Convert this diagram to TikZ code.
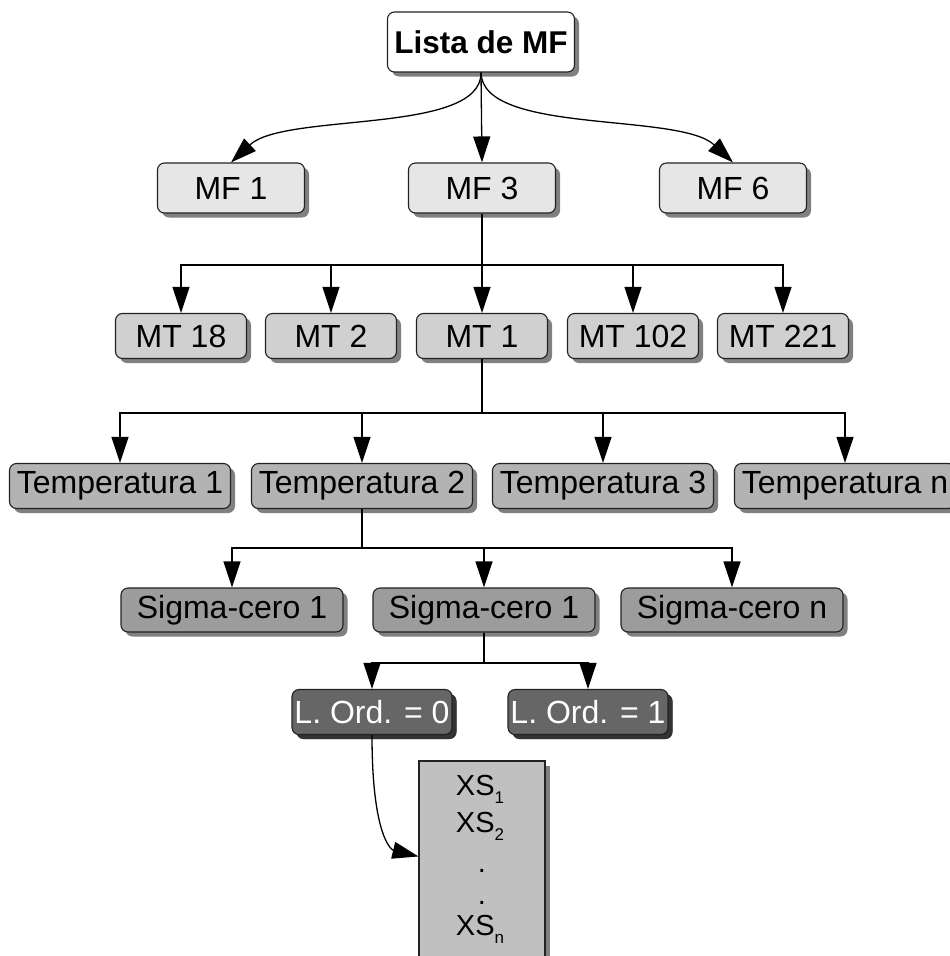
\documentclass[tikz,border=0pt]{standalone}
\usepackage{fontspec}
\setmainfont{Liberation Sans}
\usetikzlibrary{shadows,arrows.meta,calc}
\definecolor{cmf}{HTML}{E6E6E6}
\definecolor{cmt}{HTML}{D0D0D0}
\definecolor{ctp}{HTML}{B3B3B3}
\definecolor{csg}{HTML}{9C9C9C}
\definecolor{clo}{HTML}{666666}
\definecolor{cxs}{HTML}{C0C0C0}
\definecolor{cbd}{HTML}{222222}
\tikzset{
  basebox/.style={draw=cbd, line width=1.1pt, rounded corners=7pt, inner sep=0pt,
    font=\fontsize{32}{36}\selectfont,
    drop shadow={shadow xshift=4.5pt, shadow yshift=-4.5pt, fill=black!50, opacity=1}},
  listabox/.style={basebox, fill=white, minimum width=187pt, minimum height=60pt,
    font=\fontsize{31.5}{36}\selectfont\bfseries},
  mfbox/.style={basebox, fill=cmf, minimum width=147pt, minimum height=50pt},
  mtbox/.style={basebox, fill=cmt, minimum width=131pt, minimum height=45pt},
  tpbox/.style={basebox, fill=ctp, minimum width=221pt, minimum height=45pt},
  sgbox/.style={basebox, fill=csg, minimum width=222pt, minimum height=44pt},
  lobox/.style={basebox, fill=clo, text=white, minimum width=160pt, minimum height=45pt,
    drop shadow={shadow xshift=4.5pt, shadow yshift=-4.5pt, fill=black!80, opacity=1}},
  xsbox/.style={draw=cbd, line width=1.1pt, fill=cxs, inner sep=0pt,
    minimum width=126pt, minimum height=219pt,
    drop shadow={shadow xshift=5pt, shadow yshift=-5pt, fill=black!50, opacity=1}},
  xstext/.style={inner sep=0pt, anchor=base, font=\fontsize{29}{30}\selectfont},
  conn/.style={draw=black, line width=1.3pt, -{Triangle[length=26pt,width=17pt]}},
  line/.style={draw=black, line width=1.3pt}
}
\newcommand{\xsub}[1]{\raisebox{-8pt}{\fontsize{17}{17}\selectfont #1}}
\begin{document}
\begin{tikzpicture}[x=1pt,y=-1pt]
\useasboundingbox (0,0) rectangle (950,956);
% top
\node[listabox] (lista) at (481,42) {Lista de MF};
% MF row
\node[mfbox] (mf1) at (231,188) {MF 1};
\node[mfbox] (mf3) at (482,188) {MF 3};
\node[mfbox] (mf6) at (733,188) {MF 6};
% MT row
\node[mtbox] (mt18) at (181,336) {MT 18};
\node[mtbox] (mt2) at (331,336) {MT 2};
\node[mtbox] (mt1) at (482,336) {MT 1};
\node[mtbox] (mt102) at (633,336) {MT 102};
\node[mtbox] (mt221) at (783,336) {MT 221};
% Temperatura row
\node[tpbox] (t1) at (120,486) {Temperatura 1};
\node[tpbox] (t2) at (362,486) {Temperatura 2};
\node[tpbox] (t3) at (603,486) {Temperatura 3};
\node[tpbox] (tn) at (845,486) {Temperatura n};
% Sigma row
\node[sgbox] (s1) at (232,610) {Sigma-cero 1};
\node[sgbox] (s2) at (484,610) {Sigma-cero 1};
\node[sgbox] (sn) at (732,610) {Sigma-cero n};
% L. Ord row
\node[lobox] (lo0) at (372,712) {L. Ord. = 0};
\node[lobox] (lo1) at (588,712) {L. Ord. = 1};
% XS box
\node[xsbox] (xs) at (482,870.5) {};
\node[xstext] (xs1) at (480,795) {XS\xsub{1}};
\node[xstext] (xs2) at (480,832) {XS\xsub{2}};
\node[xstext] (d1) at (482,872) {.};
\node[xstext] (d2) at (482,904) {.};
\node[xstext] (xsn) at (480,935) {XS\xsub{n}};
% connectors: Lista -> MF
\draw[conn] (lista.south) .. controls (482,135) and (285,112) .. (mf1.north);
\draw[conn] (lista.south) -- (mf3.north);
\draw[conn] (lista.south) .. controls (482,135) and (679,112) .. (mf6.north);
% MF3 -> MT
\coordinate (j1) at (482,265);
\draw[line] (mf3.south) -- (j1);
\draw[conn] (j1) -| (mt18.north);
\draw[conn] (j1) -| (mt2.north);
\draw[conn] (j1) -- (mt1.north);
\draw[conn] (j1) -| (mt102.north);
\draw[conn] (j1) -| (mt221.north);
% MT1 -> Temperatura
\coordinate (j2) at (482,413);
\draw[line] (mt1.south) -- (j2);
\draw[conn] (j2) -| (t1.north);
\draw[conn] (j2) -| (t2.north);
\draw[conn] (j2) -| (t3.north);
\draw[conn] (j2) -| (tn.north);
% T2 -> Sigma
\coordinate (j3) at (362,548);
\draw[line] (t2.south) -- (j3);
\draw[conn] (j3) -| (s1.north);
\draw[conn] (j3) -| (s2.north);
\draw[conn] (j3) -| (sn.north);
% S2 -> L.Ord
\coordinate (j4) at (484,663);
\draw[line] (s2.south) -- (j4);
\draw[conn] (j4) -| (lo0.north);
\draw[conn] (j4) -| (lo1.north);
% L.Ord 0 -> XS
\coordinate (xsin) at ($(xs.north west)+(0,96)$);
\draw[conn] (lo0.south) .. controls (372,838) and (392,850) .. (xsin);
\end{tikzpicture}
\end{document}
